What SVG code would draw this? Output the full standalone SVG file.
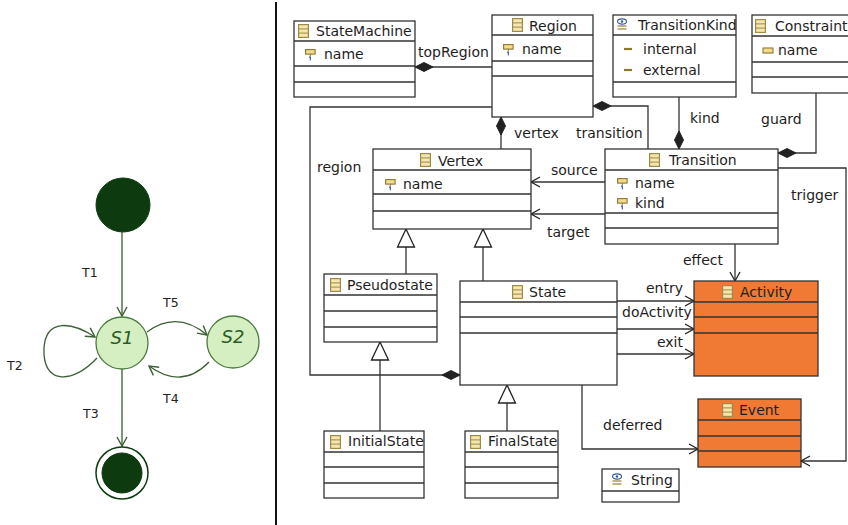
<svg xmlns="http://www.w3.org/2000/svg" width="848" height="525" viewBox="0 0 848 525">
<style>
  .box{fill:#fff;stroke:#333;stroke-width:1.3}
  .obox{fill:#f07a34;stroke:#333;stroke-width:1.3}
  .sep{stroke:#333;stroke-width:1.3;fill:none}
  .t{font-family:"DejaVu Sans",sans-serif;font-size:14px;fill:#1e1e1e}
  .lbl{font-family:"DejaVu Sans",sans-serif;font-size:14px;fill:#1e1e1e}
  .conn{fill:none;stroke:#333;stroke-width:1.3}
  .sm{fill:none;stroke:#3d5f35;stroke-width:1.3}
  .st{fill:#d6efc2;stroke:#4d7a40;stroke-width:1.3}
  .dk{fill:#0d3b0f;stroke:#0d3b0f}
  .tl{font-family:"DejaVu Sans",sans-serif;font-size:12.5px;fill:#222}
  .sn{font-family:"DejaVu Sans",sans-serif;font-size:18px;font-style:italic;fill:#2a5a25}
</style>
<defs>
  <symbol id="ci" viewBox="0 0 11 14" width="11" height="14">
    <rect x="0.6" y="0.6" width="9.8" height="12.8" fill="#f4e6ae" stroke="#a08a45" stroke-width="1.2"/>
    <line x1="0.6" y1="4.9" x2="10.4" y2="4.9" stroke="#a08a45" stroke-width="1"/>
    <line x1="0.6" y1="9.1" x2="10.4" y2="9.1" stroke="#a08a45" stroke-width="1"/>
  </symbol>
  <symbol id="ai" viewBox="0 0 11 12" width="11" height="12">
    <rect x="0.6" y="0.6" width="9.5" height="4.5" fill="#f1dc8a" stroke="#8f7430" stroke-width="1.1"/>
    <line x1="5.3" y1="5" x2="5.3" y2="7" stroke="#8f7430" stroke-width="1"/>
    <path d="M4,8.5 L5.3,7.6 V11.4" stroke="#2a3f8f" stroke-width="1" fill="none"/>
  </symbol>
  <symbol id="ei" viewBox="0 0 12 14" width="12" height="14">
    <ellipse cx="6" cy="3.5" rx="4.5" ry="2.6" fill="#fff" stroke="#3a5aa0" stroke-width="1.1"/>
    <circle cx="6" cy="3.5" r="1.2" fill="#3a5aa0"/>
    <line x1="1.5" y1="8" x2="10.5" y2="8" stroke="#a08a45" stroke-width="1.3"/>
    <line x1="1.5" y1="11" x2="10.5" y2="11" stroke="#a08a45" stroke-width="1.3"/>
  </symbol>
  <marker id="dia" markerUnits="userSpaceOnUse" viewBox="-1 -6 20 12" refX="0" refY="0" markerWidth="20" markerHeight="12" orient="auto">
    <path d="M0,0 L9,-4.5 L18,0 L9,4.5 Z" fill="#222" stroke="#222" stroke-width="1"/>
  </marker>
  <marker id="arr" markerUnits="userSpaceOnUse" viewBox="-11 -7 13 14" refX="0" refY="0" markerWidth="13" markerHeight="14" orient="auto">
    <path d="M-9,-5 L0,0 L-9,5" fill="none" stroke="#222" stroke-width="1.3"/>
  </marker>
  <marker id="gen" markerUnits="userSpaceOnUse" viewBox="-19 -10 21 20" refX="0" refY="0" markerWidth="21" markerHeight="20" orient="auto">
    <path d="M-18,-8.5 L0,0 L-18,8.5 Z" fill="#fff" stroke="#222" stroke-width="1.3"/>
  </marker>
  <marker id="garr" markerUnits="userSpaceOnUse" viewBox="-11 -7 13 14" refX="0" refY="0" markerWidth="13" markerHeight="14" orient="auto">
    <path d="M-9,-5 L0,0 L-9,5" fill="none" stroke="#3d5f35" stroke-width="1.4"/>
  </marker>
</defs>

<!-- divider -->
<line x1="276" y1="2" x2="276" y2="525" stroke="#111" stroke-width="2"/>

<!-- Left: state machine example -->
<g id="sm-edges">
  <line class="sm" x1="122" y1="232" x2="122" y2="316" marker-end="url(#garr)"/>
  <line class="sm" x1="122" y1="369" x2="122" y2="446" marker-end="url(#garr)"/>
  <path class="sm" d="M147,332 Q177,310 207,335" marker-end="url(#garr)"/>
  <path class="sm" d="M209,362 Q182,390 149,366" marker-end="url(#garr)"/>
  <path class="sm" d="M97,358 C72,385 42,384 44,348 C46,318 72,322 95,337" marker-end="url(#garr)"/>
  <text class="tl" x="82" y="277">T1</text>
  <text class="tl" x="163" y="307">T5</text>
  <text class="tl" x="7" y="370">T2</text>
  <text class="tl" x="163" y="403">T4</text>
  <text class="tl" x="83" y="418">T3</text>
</g>
<g id="initial"><circle class="dk" cx="123" cy="205" r="27"/></g>
<g id="S1"><circle class="st" cx="122" cy="343" r="26"/><text class="sn" x="122" y="344" text-anchor="middle">S1</text></g>
<g id="S2"><circle class="st" cx="233" cy="342" r="26"/><text class="sn" x="233" y="343" text-anchor="middle">S2</text></g>
<g id="final"><circle cx="122" cy="473" r="26" fill="#fff" stroke="#0d3b0f" stroke-width="1.5"/><circle class="dk" cx="122" cy="473" r="20"/></g>

<!-- Right: metamodel connectors -->
<g id="connectors">
  <path class="conn" d="M415,67 H492" marker-start="url(#dia)"/>
  <path class="conn" d="M501,117 V149" marker-start="url(#dia)"/>
  <path class="conn" d="M593,106 H648 V149" marker-start="url(#dia)"/>
  <path class="conn" d="M679,149 V97" marker-start="url(#dia)"/>
  <path class="conn" d="M778,153 H816 V93" marker-start="url(#dia)"/>
  <path class="conn" d="M460,375 H310 V107 H492" marker-start="url(#dia)"/>
  <path class="conn" d="M605,182 H531" marker-end="url(#arr)"/>
  <path class="conn" d="M605,214 H531" marker-end="url(#arr)"/>
  <path class="conn" d="M778,168 H846 V461 H801" marker-end="url(#arr)"/>
  <path class="conn" d="M735,244 V281" marker-end="url(#arr)"/>
  <path class="conn" d="M617,301 H694" marker-end="url(#arr)"/>
  <path class="conn" d="M617,329 H694" marker-end="url(#arr)"/>
  <path class="conn" d="M617,354 H694" marker-end="url(#arr)"/>
  <path class="conn" d="M582,385 V449 H698" marker-end="url(#arr)"/>
  <path class="conn" d="M406,274 V229" marker-end="url(#gen)"/>
  <path class="conn" d="M483,281 V229" marker-end="url(#gen)"/>
  <path class="conn" d="M380,431 V342" marker-end="url(#gen)"/>
  <path class="conn" d="M507,431 V385" marker-end="url(#gen)"/>
  <text class="lbl" x="418" y="57">topRegion</text>
  <text class="lbl" x="514" y="138">vertex</text>
  <text class="lbl" x="576" y="138">transition</text>
  <text class="lbl" x="690" y="123">kind</text>
  <text class="lbl" x="761" y="124">guard</text>
  <text class="lbl" x="317" y="172">region</text>
  <text class="lbl" x="551" y="175">source</text>
  <text class="lbl" x="547" y="237">target</text>
  <text class="lbl" x="791" y="200">trigger</text>
  <text class="lbl" x="683" y="265">effect</text>
  <text class="lbl" x="683" y="293" text-anchor="end">entry</text>
  <text class="lbl" x="622" y="317">doActivity</text>
  <text class="lbl" x="683" y="347" text-anchor="end">exit</text>
  <text class="lbl" x="603" y="430">deferred</text>
</g>

<g id="StateMachine">
  <rect class="box" x="294" y="21" width="121" height="76"/>
  <path class="sep" d="M294,41 H415 M294,66 H415 M294,82 H415"/>
  <use href="#ci" x="298" y="24"/>
  <text class="t" x="316" y="36">StateMachine</text>
  <use href="#ai" x="305" y="49"/>
  <text class="t" x="324" y="59">name</text>
</g>
<g id="Region">
  <rect class="box" x="492" y="15" width="101" height="102"/>
  <path class="sep" d="M492,35 H593 M492,61 H593 M492,76 H593"/>
  <use href="#ci" x="512" y="18"/>
  <text class="t" x="529" y="31">Region</text>
  <use href="#ai" x="503" y="44"/>
  <text class="t" x="522" y="54">name</text>
</g>
<g id="TransitionKind">
  <rect class="box" x="613" y="15" width="123" height="82"/>
  <path class="sep" d="M613,35 H736 M613,82 H736"/>
  <use href="#ei" x="616" y="18"/>
  <text class="t" x="638" y="30">TransitionKind</text>
  <line x1="624" y1="49" x2="632" y2="49" stroke="#8a7a30" stroke-width="2.2"/>
  <text class="t" x="643" y="54">internal</text>
  <line x1="624" y1="70" x2="632" y2="70" stroke="#8a7a30" stroke-width="2.2"/>
  <text class="t" x="643" y="75">external</text>
</g>
<g id="Constraint">
  <rect class="box" x="752" y="15" width="100" height="78"/>
  <path class="sep" d="M752,36 H852 M752,62 H852 M752,77 H852"/>
  <use href="#ci" x="755" y="19"/>
  <text class="t" x="775" y="31">Constraint</text>
  <rect x="763" y="48" width="10" height="5" fill="#f1dc8a" stroke="#8f7430" stroke-width="1.1"/>
  <text class="t" x="778" y="55">name</text>
</g>
<g id="Vertex">
  <rect class="box" x="373" y="149" width="158" height="80"/>
  <path class="sep" d="M373,170 H531 M373,194 H531 M373,211 H531"/>
  <use href="#ci" x="420" y="153"/>
  <text class="t" x="438" y="166">Vertex</text>
  <use href="#ai" x="385" y="179"/>
  <text class="t" x="403" y="189">name</text>
</g>
<g id="Transition">
  <rect class="box" x="605" y="149" width="173" height="95"/>
  <path class="sep" d="M605,170 H778 M605,213 H778 M605,228 H778"/>
  <use href="#ci" x="649" y="153"/>
  <text class="t" x="669" y="165">Transition</text>
  <use href="#ai" x="617" y="178"/>
  <text class="t" x="635" y="188">name</text>
  <use href="#ai" x="617" y="198"/>
  <text class="t" x="635" y="208">kind</text>
</g>
<g id="Pseudostate">
  <rect class="box" x="324" y="274" width="113" height="68"/>
  <path class="sep" d="M324,295 H437 M324,311 H437 M324,327 H437"/>
  <use href="#ci" x="330" y="278"/>
  <text class="t" x="347" y="290">Pseudostate</text>
</g>
<g id="State">
  <rect class="box" x="460" y="281" width="157" height="104"/>
  <path class="sep" d="M460,302 H617 M460,317 H617 M460,333 H617"/>
  <use href="#ci" x="512" y="285"/>
  <text class="t" x="529" y="297">State</text>
</g>
<g id="Activity">
  <rect class="obox" x="694" y="281" width="124" height="95"/>
  <path class="sep" d="M694,302 H818 M694,317 H818 M694,333 H818"/>
  <use href="#ci" x="722" y="285"/>
  <text class="t" x="740" y="297">Activity</text>
</g>
<g id="InitialState">
  <rect class="box" x="324" y="431" width="100" height="67"/>
  <path class="sep" d="M324,452 H424 M324,467 H424 M324,483 H424"/>
  <use href="#ci" x="330" y="435"/>
  <text class="t" x="348" y="446">InitialState</text>
</g>
<g id="FinalState">
  <rect class="box" x="465" y="431" width="93" height="67"/>
  <path class="sep" d="M465,452 H558 M465,467 H558 M465,483 H558"/>
  <use href="#ci" x="470" y="435"/>
  <text class="t" x="488" y="446">FinalState</text>
</g>
<g id="Event">
  <rect class="obox" x="698" y="399" width="103" height="68"/>
  <path class="sep" d="M698,420 H801 M698,436 H801 M698,451 H801"/>
  <use href="#ci" x="722" y="403"/>
  <text class="t" x="739" y="415">Event</text>
</g>
<g id="String">
  <rect class="box" x="602" y="469" width="77" height="33"/>
  <path class="sep" d="M602,491 H679"/>
  <use href="#ei" x="611" y="473"/>
  <text class="t" x="631" y="485">String</text>
</g>
</svg>
